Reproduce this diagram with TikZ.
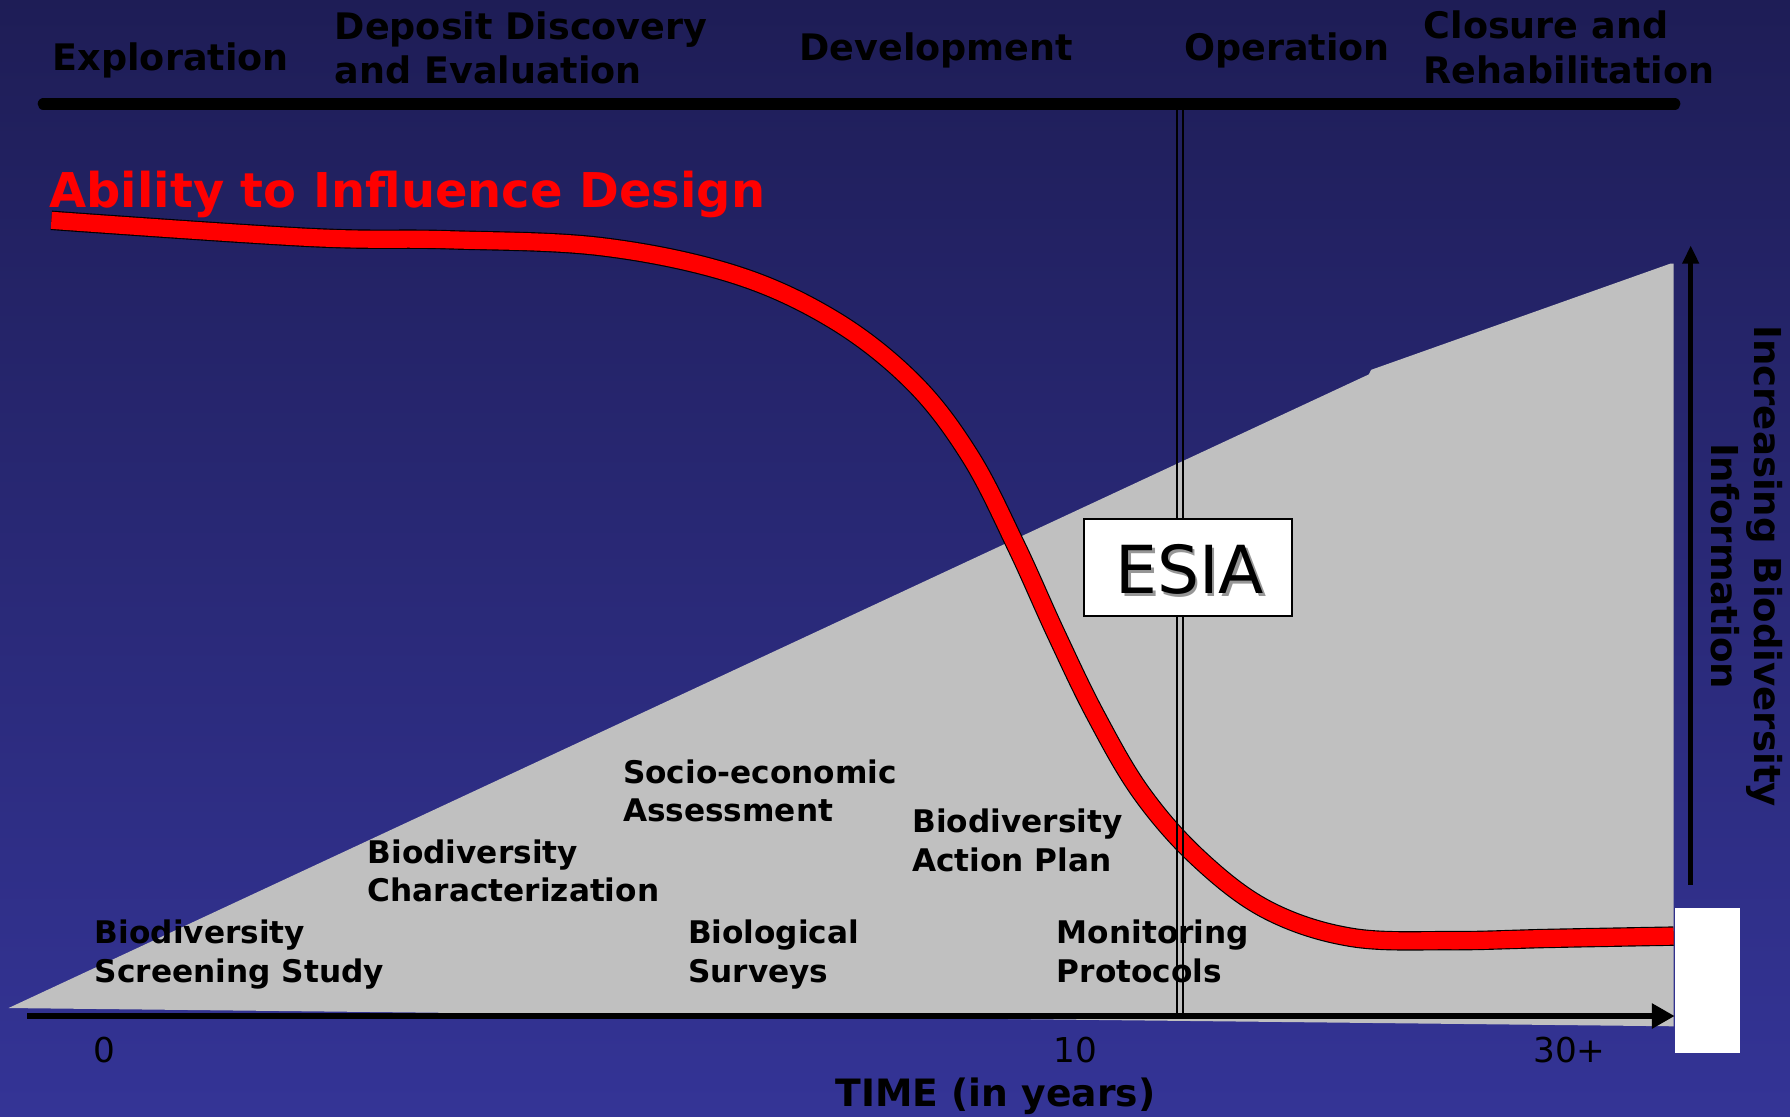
\documentclass[tikz,border=0pt]{standalone}
\usepackage{fontspec}
\setmainfont{DejaVu Sans}
\usetikzlibrary{arrows.meta}
\definecolor{bgtop}{RGB}{30,29,86}
\definecolor{bgbot}{RGB}{52,52,150}
\definecolor{shapegray}{RGB}{192,192,192}
\definecolor{shadowgray}{RGB}{150,150,150}
\newcommand{\twoline}[3]{\vtop{\baselineskip=#1pt\hbox{#2}\hbox{#3}}}
\begin{document}
\begin{tikzpicture}[x=1pt,y=-1pt,
  phase/.style={anchor=base west, inner sep=0pt, font=\fontsize{32}{39}\selectfont\bfseries},
  stagelbl/.style={anchor=base west, inner sep=0pt, font=\fontsize{27.3}{34}\selectfont\bfseries},
  ticklbl/.style={anchor=base west, inner sep=0pt, font=\fontsize{30}{36}\selectfont},
  axisline/.style={line width=6pt, -{Triangle[length=20pt,width=21pt]}},
  infoarrow/.style={line width=4.5pt, -{Triangle[length=16pt,width=14pt]}},
  divider/.style={line width=1.8pt, black},
]
\useasboundingbox (0,0) rectangle (1568,978);
\shade[top color=bgtop, bottom color=bgbot] (0,0) rectangle (1568,978);

% information wedge
\fill[shapegray] (7.5,883) -- (1199,328) -- (1201,324) -- (1463,231) -- (1466,231) -- (1466,899) -- cycle;
\fill[white] (1467,795) rectangle (1524,922);

% ability curve
\draw[black, line width=17pt, postaction={draw=red, line width=15pt}]
  plot[smooth, tension=0.6] coordinates {(45,193) (271,208) (392,210) (526,216) (642,240) (730,280) (800,335) (850,400) (890,478) (925,555) (960,627) (1000,695) (1050,752) (1110,797) (1183,821) (1270,824) (1358,822) (1466,820)};

% stage labels
\node[stagelbl] (screen) at (83,826.4) {\twoline{34}{Biodiversity}{Screening Study}};
\node[stagelbl] (charac) at (322,756) {\twoline{34}{Biodiversity}{Characterization}};
\node[stagelbl] (socio) at (545.6,686) {\twoline{34}{Socio-economic}{Assessment}};
\node[stagelbl] (biosurv) at (602.5,826.4) {\twoline{34}{Biological}{Surveys}};
\node[stagelbl] (bap) at (799,729) {\twoline{34}{Biodiversity}{Action Plan}};
\node[stagelbl] (monit) at (925.6,826.4) {\twoline{34}{Monitoring}{Protocols}};

% divider (double line)
\coordinate (divtopA) at (1031,91);
\coordinate (divbotA) at (1031,890);
\coordinate (divtopB) at (1036,91);
\coordinate (divbotB) at (1036,890);
\draw[divider] (divtopA) -- (divbotA);
\draw[divider] (divtopB) -- (divbotB);

% ESIA box
\node[draw=black, line width=1.5pt, fill=white, minimum width=182pt, minimum height=85pt, inner sep=0pt] (esia) at (1040.5,497) {};
\node[anchor=base, inner sep=0pt, font=\fontsize{58}{60}\selectfont, text=shadowgray] (esiashadow) at (1044.5,522.5) {ESIA};
\node[anchor=base, inner sep=0pt, font=\fontsize{58}{60}\selectfont] (esiatext) at (1042,520) {ESIA};

% time axis
\coordinate (axstart) at (24,890);
\coordinate (axend) at (1467,890);
\draw[axisline] (axstart) -- (axend);

% phase bar
\coordinate (barL) at (38,91);
\coordinate (barR) at (1467,91);
\draw[line width=10pt, line cap=round] (barL) -- (barR);

% information arrow
\coordinate (infobot) at (1481,775);
\coordinate (infotop) at (1481,215);
\draw[infoarrow] (infobot) -- (infotop);

% phase labels
\node[phase] (explo) at (46,62) {Exploration};
\node[phase] (deposit) at (293,34.5) {\twoline{39}{Deposit Discovery}{and Evaluation}};
\node[phase] (devel) at (700,53.4) {Development};
\node[phase] (oper) at (1037,53.4) {Operation};
\node[phase] (closure) at (1247,33.6) {\twoline{39.4}{Closure and}{Rehabilitation}};

% title
\node[anchor=base west, inner sep=0pt, text=red, font=\fontsize{42}{50}\selectfont\bfseries] (title) at (43,182) {Ability to Influence Design};

% ticks
\node[ticklbl] (t0) at (82,931) {0};
\node[ticklbl] (t10) at (923,931) {10};
\node[ticklbl] (t30) at (1343,931) {30+};
\node[anchor=base west, inner sep=0pt, font=\fontsize{33}{40}\selectfont\bfseries] (timelbl) at (731.6,969.5) {TIME (in years)};

% vertical label
\node[rotate=-90, align=center, font=\fontsize{32.5}{38}\selectfont\bfseries] (info) at (1530,496) {Increasing Biodiversity\\Information};
\end{tikzpicture}
\end{document}
